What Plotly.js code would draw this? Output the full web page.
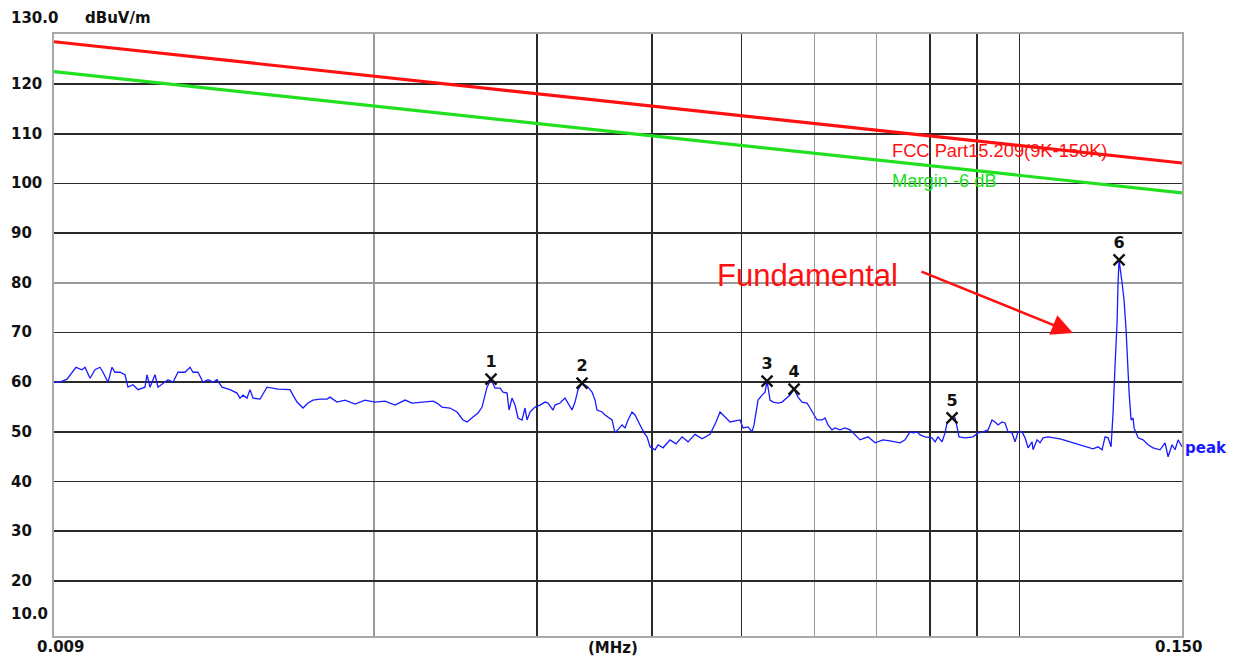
<!DOCTYPE html>
<html>
<head>
<meta charset="utf-8">
<script src="https://cdn.plot.ly/plotly-3.0.1.min.js"></script>
<style>html,body{margin:0;padding:0;background:#fff;}#chart{width:1235px;height:659px;}</style>
</head>
<body>
<div id="chart"></div>
<script>
// Frequency (MHz) and level (dBuV/m) of the peak trace
const freqMHz = [0.009,0.009136,0.009297,0.009413,0.009508,0.009651,0.009724,0.009846,0.009969,0.010094,0.010170,0.010298,0.010401,0.010479,0.010611,0.010744,0.010824,0.010960,0.011098,0.011293,0.011350,0.011435,0.011579,0.011666,0.011871,0.011960,0.012110,0.012262,0.012478,0.012635,0.012730,0.012889,0.013051,0.013215,0.013381,0.013515,0.013685,0.013960,0.014206,0.014313,0.014420,0.014565,0.014674,0.014785,0.015045,0.015310,0.015736,0.016214,0.016336,0.016500,0.016748,0.016959,0.017171,0.017474,0.017782,0.017915,0.018231,0.018598,0.019068,0.019550,0.020043,0.020550,0.021068,0.021601,0.021981,0.022424,0.023163,0.023395,0.023689,0.024166,0.024592,0.024963,0.025213,0.025593,0.025915,0.026175,0.026305,0.026503,0.026769,0.027037,0.027376,0.027582,0.027859,0.027998,0.028208,0.028420,0.028634,0.028921,0.029138,0.029284,0.029504,0.029874,0.030249,0.030628,0.030858,0.031246,0.031402,0.031796,0.032195,0.032437,0.032763,0.033008,0.033256,0.033590,0.034096,0.034438,0.034697,0.034870,0.035308,0.035573,0.036200,0.036472,0.036746,0.037114,0.037393,0.037674,0.038051,0.038337,0.038818,0.039208,0.039502,0.039799,0.040298,0.040601,0.041110,0.041834,0.042465,0.043106,0.043755,0.044526,0.045310,0.046224,0.046921,0.047391,0.047986,0.048588,0.049815,0.050189,0.050819,0.051329,0.051585,0.051844,0.052103,0.052625,0.053020,0.053285,0.053686,0.054089,0.054768,0.055317,0.056011,0.056432,0.056998,0.057569,0.058146,0.058876,0.059319,0.059764,0.060363,0.061121,0.061580,0.062042,0.062664,0.063135,0.063927,0.064729,0.065542,0.067198,0.068552,0.069759,0.071165,0.072418,0.074247,0.075179,0.076123,0.076695,0.077464,0.078046,0.079025,0.080417,0.081021,0.081629,0.082448,0.083067,0.083483,0.084530,0.085166,0.085592,0.086020,0.087317,0.089077,0.090194,0.091326,0.092471,0.093399,0.094100,0.094807,0.095758,0.096477,0.097202,0.098177,0.098915,0.099657,0.100657,0.101413,0.102174,0.103199,0.103457,0.104495,0.105279,0.106070,0.107401,0.110665,0.113459,0.116325,0.118373,0.120158,0.121666,0.122886,0.123809,0.124739,0.125676,0.126305,0.126937,0.127571,0.127890,0.128210,0.129173,0.129819,0.130469,0.130794,0.131449,0.132106,0.132766,0.133098,0.134432,0.136119,0.137828,0.139558,0.142016,0.143798,0.144878,0.146330,0.147429,0.148536,0.150];
const peakLevel = [60,60,60.6,62,63,62.5,63,60.8,62.5,63,62,60,63,62,62,61.5,59,59.5,58.5,59,61.5,59,61.5,59,60,60.5,60,62,62,63,62,62,60,60.5,60,60.5,59,58.5,57.8,56.8,57.4,56.8,58.5,56.8,56.6,59,58.6,58.5,57.4,56,54.8,55.8,56.4,56.6,56.6,57,56,56.4,55.6,56.4,56,56.2,55.4,56.4,55.8,56,56.2,55.8,55,54.8,54,52.4,52,53,53.8,55,56.8,59,60.6,58.8,58.8,58,57.8,54.4,56.8,55.4,52.8,52.4,54.8,52.4,54,55,55.4,56,55.8,54.4,55.4,55.8,56.8,55.8,54.4,56,58.5,59.8,59,58,56.4,54.4,54,53.4,52.4,49.8,50.4,51.4,50.8,52.4,54,53.4,51.4,49.8,49,47,46.4,47.4,46.8,48.4,47.6,49,48,49.5,48.6,49.5,52,54,53,52,52.4,50.8,51,50,51.4,54,56.4,57.4,58,60.2,56.4,56,55.8,56,56.8,57.4,58.6,57,56,55.8,54.8,53.8,52.4,52.4,52.8,51.4,50.4,50.8,50.4,50.8,50.4,48.4,49,47.8,48.4,48.2,47.8,48.4,50,49.8,50,49.4,49,48.8,48,49,48,49.8,51.8,52.8,52.8,51,49,48.8,49,49.8,50,50.4,52.4,52,51.4,52,51.8,50,49.8,48,50,50,48.8,46.8,48,46.4,48.4,47.8,48.8,49,48.6,48,47.4,47,46.6,47,46.4,49,48.8,47,53.8,63.5,71.9,80,84.6,80,76.5,70.5,65.9,58,52.4,52.8,50.8,48.8,48.4,47.4,46.8,46.4,47.8,45,47.4,46.4,48.4,47];

// Limit lines
const limitFreq = [0.009, 0.02, 0.03, 0.05, 0.1, 0.15];
const fccLimit = [128.5, 121.6, 118.1, 113.6, 107.6, 104.1];
const marginLimit = [122.5, 115.6, 112.1, 107.6, 101.6, 98.1];

// Marked peaks
const markerFreq = [0.026769, 0.033590, 0.053285, 0.056998, 0.08453, 0.12821];
const markerLevel = [60.6, 59.8, 60.2, 58.6, 52.8, 84.6];
const markerLabel = ['1', '2', '3', '4', '5', '6'];

// Axis ticks
const xBlackGrid = [0.03, 0.04, 0.05, 0.08, 0.09, 0.1];
const xGrayGrid = [0.02, 0.06, 0.07];
const yBlackGrid = [20, 30, 40, 50, 60, 70, 90, 100, 110, 120];
const yGrayGrid = [80];
const yTickVals = [130, 120, 110, 100, 90, 80, 70, 60, 50, 40, 30, 20, 10];
const yTickText = ['130.0', '120', '110', '100', '90', '80', '70', '60', '50', '40', '30', '20', '10.0'];
const xLabels = ['0.009', '(MHz)', '0.150'];

const tickFont = {family: 'DejaVu Sans, sans-serif', size: 15, color: '#111'};

const traces = [
  {x: limitFreq, y: fccLimit, mode: 'lines', line: {color: '#ff1010', width: 3.2}, hoverinfo: 'skip'},
  {x: limitFreq, y: marginLimit, mode: 'lines', line: {color: '#20e020', width: 3.2}, hoverinfo: 'skip'},
  {x: freqMHz, y: peakLevel, mode: 'lines', line: {color: '#1a1aff', width: 1.3}},
  {x: markerFreq, y: markerLevel, mode: 'markers+text', text: markerLabel, textposition: 'top center',
   textfont: {family: 'DejaVu Sans, sans-serif', size: 16, color: '#111', weight: 'bold'},
   marker: {symbol: 'x-thin-open', size: 11, color: '#111', line: {width: 2.4, color: '#111'}}}
];

const annotations = [];
yTickVals.forEach((v, i) => {
  let yshift = 0;
  if (i === 0) yshift = 16;
  if (i === yTickVals.length - 1) yshift = 17;
  annotations.push({xref: 'paper', yref: 'y', x: -45/1128, y: v, yshift: yshift, xanchor: 'left', yanchor: 'middle',
    text: '<b>' + yTickText[i] + '</b>', showarrow: false, font: tickFont});
});
annotations.push({xref: 'paper', yref: 'paper', x: 29/1128, y: 1, yshift: 16, xanchor: 'left', yanchor: 'middle',
  text: '<b>dBuV/m</b>', showarrow: false, font: tickFont});
annotations.push({xref: 'paper', yref: 'paper', x: 6/1128, y: 0, yshift: -11, xanchor: 'center', yanchor: 'middle',
  text: '<b>' + xLabels[0] + '</b>', showarrow: false, font: tickFont});
annotations.push({xref: 'paper', yref: 'paper', x: 559/1128, y: 0, yshift: -12, xanchor: 'center', yanchor: 'middle',
  text: '<b>' + xLabels[1] + '</b>', showarrow: false, font: tickFont});
annotations.push({xref: 'paper', yref: 'paper', x: 1124/1128, y: 0, yshift: -11, xanchor: 'center', yanchor: 'middle',
  text: '<b>' + xLabels[2] + '</b>', showarrow: false, font: tickFont});
annotations.push({xref: 'paper', yref: 'y', x: 836/1128, y: 106.7, xanchor: 'left', yanchor: 'middle',
  text: 'FCC Part15.209(9K-150K)', showarrow: false, font: {family: 'Liberation Sans, Arial, sans-serif', size: 18.3, color: '#ff1010'}});
annotations.push({xref: 'paper', yref: 'y', x: 836/1128, y: 100.5, xanchor: 'left', yanchor: 'middle',
  text: 'Margin -6 dB', showarrow: false, font: {family: 'Liberation Sans, Arial, sans-serif', size: 18.3, color: '#20e020'}});
annotations.push({xref: 'paper', yref: 'y', x: 1129/1128, y: 46.8, xanchor: 'left', yanchor: 'middle',
  text: '<b>peak</b>', showarrow: false, font: {family: 'DejaVu Sans, sans-serif', size: 15, color: '#1a1aff'}});
annotations.push({xref: 'paper', yref: 'y', x: 661/1128, y: 120 - (276 - 84) / 4.97, xanchor: 'left', yanchor: 'middle',
  text: 'Fundamental', showarrow: false, font: {family: 'Liberation Sans, Arial, sans-serif', size: 31, color: '#ff1010'}});
annotations.push({xref: 'paper', yref: 'paper', x: (1073 - 54) / 1128, y: (636 - 333) / 602, ax: -153, ay: -62,
  axref: 'pixel', ayref: 'pixel', text: '', showarrow: true, arrowhead: 2, arrowsize: 1.7, arrowwidth: 2.5, arrowcolor: '#ff1010'});

const layout = {
  width: 1235, height: 659,
  margin: {l: 54, r: 53, t: 34, b: 23, pad: 0},
  paper_bgcolor: '#ffffff', plot_bgcolor: '#ffffff',
  showlegend: false,
  xaxis: {type: 'log', range: [Math.log10(0.009), Math.log10(0.15)], tickmode: 'array', tickvals: xBlackGrid,
    showticklabels: false, ticks: '', showgrid: true, gridcolor: '#2a2a2a', gridwidth: 1.6, zeroline: false,
    minor: {tickmode: 'array', tickvals: xGrayGrid, showgrid: true, gridcolor: '#9a9a9a', gridwidth: 1.6, ticks: ''},
    showline: true, mirror: true, linecolor: '#a8a8a8', linewidth: 2},
  yaxis: {range: [8.93, 130.06], tickmode: 'array', tickvals: yBlackGrid, showticklabels: false, ticks: '',
    showgrid: true, gridcolor: '#2a2a2a', gridwidth: 1.6, zeroline: false,
    minor: {tickmode: 'array', tickvals: yGrayGrid, showgrid: true, gridcolor: '#9a9a9a', gridwidth: 1.6, ticks: ''},
    showline: true, mirror: true, linecolor: '#a8a8a8', linewidth: 2},
  annotations: annotations
};

Plotly.newPlot('chart', traces, layout, {displayModeBar: false, staticPlot: true});
</script>
</body>
</html>
